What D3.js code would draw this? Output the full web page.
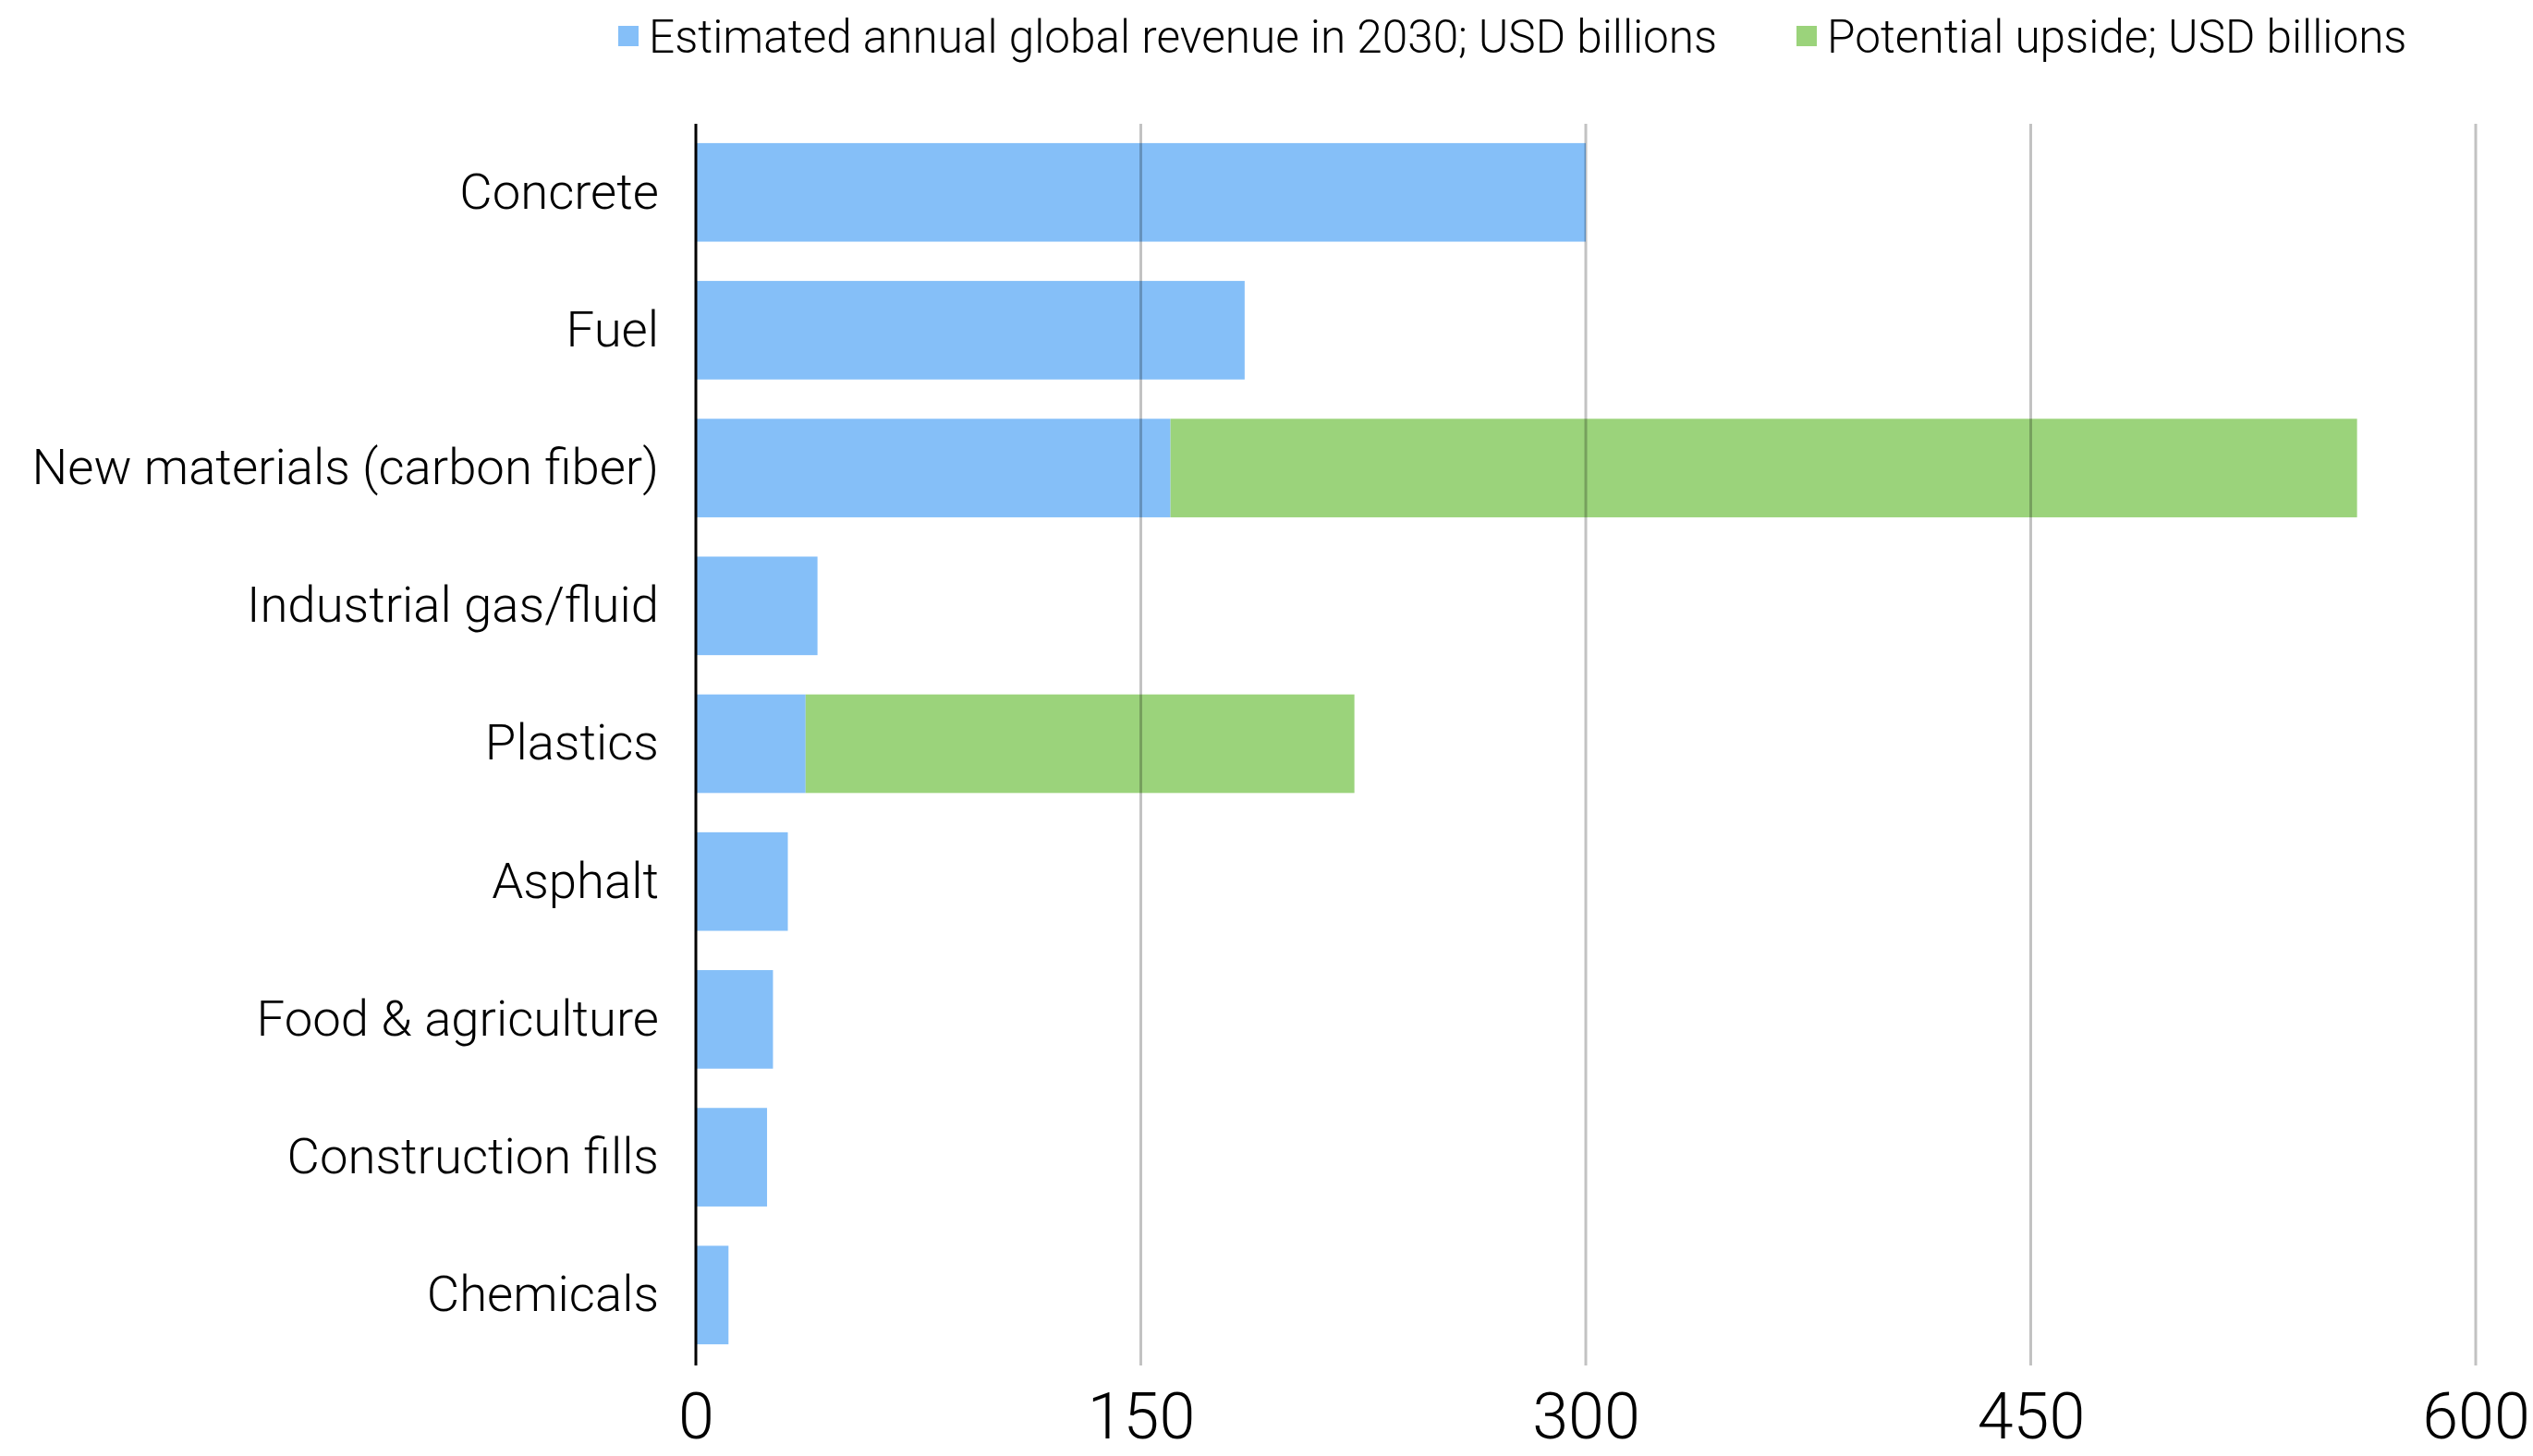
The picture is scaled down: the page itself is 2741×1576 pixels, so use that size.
<!DOCTYPE html>
<html>
<head>
<meta charset="utf-8">
<script src="https://cdn.jsdelivr.net/npm/d3@7"></script>
<style>
  html, body { margin: 0; padding: 0; background: #fff; }
  svg { display: block; font-family: "Roboto", "Liberation Sans", sans-serif; font-weight: 300; }
</style>
</head>
<body>
<svg id="chart" width="2741" height="1576"></svg>
<script>
// Market categories, top to bottom
const categories = [
  "Concrete",
  "Fuel",
  "New materials (carbon fiber)",
  "Industrial gas/fluid",
  "Plastics",
  "Asphalt",
  "Food & agriculture",
  "Construction fills",
  "Chemicals"
];
// Estimated annual global revenue in 2030, USD billions
const revenue2030 = [300, 185, 160, 41, 37, 31, 26, 24, 11];
// Potential upside, USD billions
const upside = [0, 0, 400, 0, 185, 0, 0, 0, 0];
const seriesNames = [
  "Estimated annual global revenue in 2030; USD billions",
  "Potential upside; USD billions"
];
const xTicks = [0, 150, 300, 450, 600];

const colors = ["#85bff8", "#9bd37b"];

const svg = d3.select("#chart");
const margin = { left: 753, right: 62, top: 134, bottom: 100 };
const W = 2741, H = 1576;

const x = d3.scaleLinear().domain([0, 600]).range([margin.left, W - margin.right]);
const y = d3.scaleBand().domain(categories)
  .range([margin.top, H - margin.bottom])
  .paddingInner(0.285).paddingOuter(0.14);

const rows = categories.map((c, i) => ({ cat: c, base: revenue2030[i], up: upside[i] }));
const stack = d3.stack().keys(["base", "up"])(rows);

// Bars
const layers = svg.append("g").selectAll("g").data(stack).join("g")
  .attr("fill", (d, i) => colors[i]);
layers.selectAll("rect").data(d => d.filter(p => p[1] > p[0])).join("rect")
  .attr("x", d => x(d[0]))
  .attr("width", d => x(d[1]) - x(d[0]))
  .attr("y", d => y(d.data.cat))
  .attr("height", y.bandwidth());

// Vertical gridlines drawn over the bars
const gridTop = margin.top, gridBottom = H - margin.bottom + 2;
svg.append("g").selectAll("line").data(xTicks.filter(t => t > 0)).join("line")
  .attr("x1", d => x(d)).attr("x2", d => x(d))
  .attr("y1", gridTop).attr("y2", gridBottom)
  .attr("stroke", "rgba(0,0,0,0.24)")
  .attr("stroke-width", 3);

// Zero axis line
svg.append("line")
  .attr("x1", x(0)).attr("x2", x(0))
  .attr("y1", gridTop).attr("y2", gridBottom)
  .attr("stroke", "#000").attr("stroke-width", 3);

// X axis tick labels
const xAxis = d3.axisBottom(x).tickValues(xTicks).tickSize(0).tickPadding(0);
const xg = svg.append("g").attr("transform", `translate(0, ${H - 19})`).call(xAxis);
xg.select(".domain").remove();
xg.selectAll("text")
  .attr("dy", 0)
  .attr("y", 0)
  .attr("fill", "#000")
  .style("font-family", "Roboto, sans-serif")
  .style("font-weight", 300)
  .style("font-size", "70px");

// Category labels
const yAxis = d3.axisLeft(y).tickSize(0).tickPadding(0);
const yg = svg.append("g").attr("transform", `translate(${x(0) - 40}, 0)`).call(yAxis);
yg.select(".domain").remove();
yg.selectAll("text")
  .attr("fill", "#000")
  .style("font-family", "Roboto, sans-serif")
  .style("font-weight", 300)
  .style("font-size", "54.5px");

// Legend
const legendItems = [
  { name: seriesNames[0], color: colors[0], x: 669 },
  { name: seriesNames[1], color: colors[1], x: 1944 }
];
const lg = svg.append("g").selectAll("g").data(legendItems).join("g")
  .attr("transform", d => `translate(${d.x}, 28)`);
lg.append("rect").attr("width", 22).attr("height", 22).attr("fill", d => d.color);
lg.append("text")
  .attr("x", 33).attr("y", 11).attr("dy", "0.36em")
  .style("font-size", "49.5px")
  .attr("fill", "#000")
  .text(d => d.name);
</script>
</body>
</html>
